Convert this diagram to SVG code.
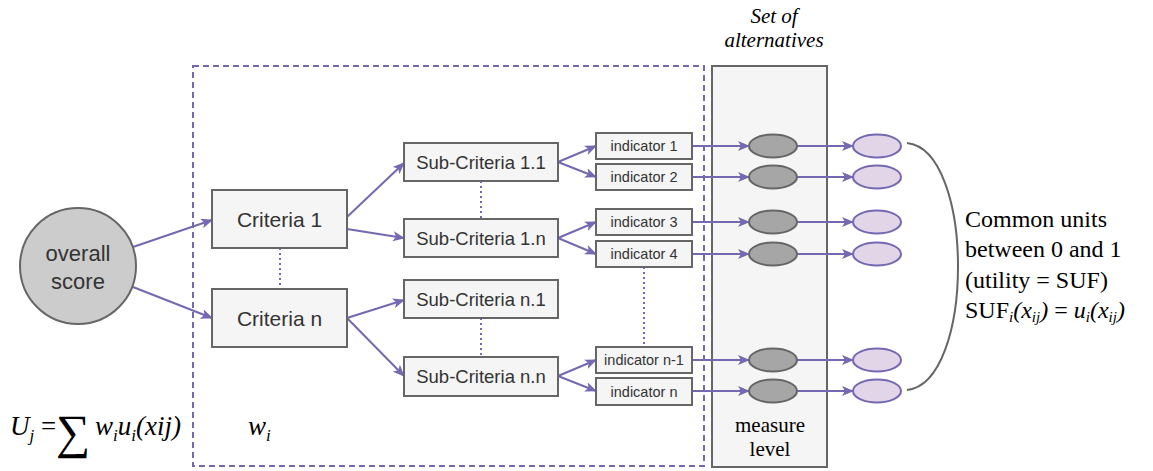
<svg xmlns="http://www.w3.org/2000/svg" width="1153" height="471" viewBox="0 0 1153 471">
<defs>
<style>
.box{fill:#f5f5f5;stroke:#666666;stroke-width:2}
.lbl{font-family:"Liberation Sans",Arial,sans-serif;fill:#333333;text-anchor:middle;dominant-baseline:central}
.c{stroke:#7468b2;stroke-width:2;fill:none;marker-end:url(#arr)}
.dot{stroke:#7468b2;stroke-width:2;fill:none;stroke-dasharray:2 3}
.tm{font-family:"Liberation Serif","Times New Roman",serif;fill:#000}
.ge{fill:#a6a6a6;stroke:#666666;stroke-width:2}
.pe{fill:#e1d5e7;stroke:#7468b2;stroke-width:2}
</style>
<marker id="arr" viewBox="0 0 12 10" refX="11" refY="5" markerWidth="12" markerHeight="10" orient="auto" markerUnits="userSpaceOnUse">
<path d="M0,0 L12,5 L0,10 L3,5 Z" fill="#7468b2"/>
</marker>
</defs>
<rect width="1153" height="471" fill="#ffffff"/>

<g id="alternatives-panel">
<rect x="712" y="66" width="115" height="401" class="box"/>
<text class="tm" x="774" y="23" font-size="21" font-style="italic" text-anchor="middle">Set of</text>
<text class="tm" x="774" y="47" font-size="21" font-style="italic" text-anchor="middle">alternatives</text>
<text class="tm" x="770" y="432" font-size="21" text-anchor="middle">measure</text>
<text class="tm" x="770" y="456" font-size="21" text-anchor="middle">level</text>
</g>

<g id="weights-frame">
<rect x="193" y="66" width="511" height="400" fill="none" stroke="#7468b2" stroke-width="2" stroke-dasharray="6 4"/>
</g>

<g id="connectors">
<line x1="133" y1="247" x2="212" y2="220" class="c"/>
<line x1="133" y1="287" x2="212" y2="318" class="c"/>
<line x1="347" y1="217" x2="404" y2="163" class="c"/>
<line x1="347" y1="229" x2="404" y2="238" class="c"/>
<line x1="347" y1="318" x2="404" y2="300" class="c"/>
<line x1="347" y1="318" x2="404" y2="376" class="c"/>
<line x1="558" y1="162" x2="596" y2="146" class="c"/>
<line x1="558" y1="162" x2="596" y2="177" class="c"/>
<line x1="558" y1="238" x2="596" y2="222" class="c"/>
<line x1="558" y1="238" x2="596" y2="254" class="c"/>
<line x1="558" y1="376" x2="596" y2="360" class="c"/>
<line x1="558" y1="376" x2="596" y2="391" class="c"/>
<line x1="692" y1="146" x2="749" y2="146" class="c"/>
<line x1="692" y1="177" x2="749" y2="177" class="c"/>
<line x1="692" y1="222" x2="749" y2="222" class="c"/>
<line x1="692" y1="254" x2="749" y2="254" class="c"/>
<line x1="692" y1="360" x2="749" y2="360" class="c"/>
<line x1="692" y1="391" x2="749" y2="391" class="c"/>
<line x1="797" y1="146" x2="853" y2="146" class="c"/>
<line x1="797" y1="177" x2="853" y2="177" class="c"/>
<line x1="797" y1="222" x2="853" y2="222" class="c"/>
<line x1="797" y1="254" x2="853" y2="254" class="c"/>
<line x1="797" y1="360" x2="853" y2="360" class="c"/>
<line x1="797" y1="391" x2="853" y2="391" class="c"/>
<line x1="280" y1="248" x2="280" y2="289" class="dot"/>
<line x1="481" y1="181" x2="481" y2="219" class="dot"/>
<line x1="481" y1="318" x2="481" y2="357" class="dot"/>
<line x1="644" y1="267" x2="644" y2="345" class="dot"/>
<path d="M907,143 C975,150 975,383 907,390" fill="none" stroke="#666666" stroke-width="2"/>
</g>

<g id="overall-score">
<circle cx="78" cy="266" r="58" fill="#cccccc" stroke="#666666" stroke-width="2"/>
<text class="lbl" x="78" y="253" font-size="22">overall</text>
<text class="lbl" x="78" y="281" font-size="22">score</text>
</g>

<g id="criteria-1"><rect x="212" y="190" width="135" height="58" class="box"/><text class="lbl" x="279.5" y="219" font-size="21">Criteria 1</text></g>
<g id="criteria-n"><rect x="212" y="289" width="135" height="58" class="box"/><text class="lbl" x="279.5" y="318" font-size="21">Criteria n</text></g>

<g id="sub-1-1"><rect x="404" y="143" width="154" height="38" class="box"/><text class="lbl" x="481" y="162" font-size="18.5">Sub-Criteria 1.1</text></g>
<g id="sub-1-n"><rect x="404" y="219" width="154" height="38" class="box"/><text class="lbl" x="481" y="238" font-size="18.5">Sub-Criteria 1.n</text></g>
<g id="sub-n-1"><rect x="404" y="280" width="154" height="38" class="box"/><text class="lbl" x="481" y="299" font-size="18.5">Sub-Criteria n.1</text></g>
<g id="sub-n-n"><rect x="404" y="357" width="154" height="39" class="box"/><text class="lbl" x="481" y="376.5" font-size="18.5">Sub-Criteria n.n</text></g>

<g id="indicator-1"><rect x="596" y="133" width="96" height="26" class="box"/><text class="lbl" x="644" y="146" font-size="14.5">indicator 1</text></g>
<g id="indicator-2"><rect x="596" y="164" width="96" height="26" class="box"/><text class="lbl" x="644" y="177" font-size="14.5">indicator 2</text></g>
<g id="indicator-3"><rect x="596" y="209" width="96" height="26" class="box"/><text class="lbl" x="644" y="222" font-size="14.5">indicator 3</text></g>
<g id="indicator-4"><rect x="596" y="241" width="96" height="26" class="box"/><text class="lbl" x="644" y="254" font-size="14.5">indicator 4</text></g>
<g id="indicator-n-1"><rect x="596" y="347" width="96" height="26" class="box"/><text class="lbl" x="644" y="360" font-size="14.5">indicator n-1</text></g>
<g id="indicator-n"><rect x="596" y="378" width="96" height="27" class="box"/><text class="lbl" x="644" y="391.5" font-size="14.5">indicator n</text></g>

<g id="measures">
<ellipse cx="773" cy="146" rx="24" ry="11.5" class="ge"/>
<ellipse cx="773" cy="177" rx="24" ry="11.5" class="ge"/>
<ellipse cx="773" cy="222" rx="24" ry="11.5" class="ge"/>
<ellipse cx="773" cy="254" rx="24" ry="11.5" class="ge"/>
<ellipse cx="773" cy="360" rx="24" ry="11.5" class="ge"/>
<ellipse cx="773" cy="391" rx="24" ry="11.5" class="ge"/>
</g>

<g id="utilities">
<ellipse cx="877" cy="146" rx="24" ry="11.5" class="pe"/>
<ellipse cx="877" cy="177" rx="24" ry="11.5" class="pe"/>
<ellipse cx="877" cy="222" rx="24" ry="11.5" class="pe"/>
<ellipse cx="877" cy="254" rx="24" ry="11.5" class="pe"/>
<ellipse cx="877" cy="360" rx="24" ry="11.5" class="pe"/>
<ellipse cx="877" cy="391" rx="24" ry="11.5" class="pe"/>
</g>

<g id="common-units">
<text class="tm" x="965" y="227" font-size="24">Common units</text>
<text class="tm" x="965" y="257" font-size="24">between 0 and 1</text>
<text class="tm" x="965" y="288" font-size="24">(utility = SUF)</text>
<text class="tm" x="965" y="318" font-size="24">SUF<tspan font-style="italic" font-size="15" dy="4">i</tspan><tspan font-style="italic" dy="-4">(x</tspan><tspan font-style="italic" font-size="15" dy="4">ij</tspan><tspan font-style="italic" dy="-4">)</tspan> = <tspan font-style="italic">u</tspan><tspan font-style="italic" font-size="15" dy="4">i</tspan><tspan font-style="italic" dy="-4">(x</tspan><tspan font-style="italic" font-size="15" dy="4">ij</tspan><tspan font-style="italic" dy="-4">)</tspan></text>
</g>

<g id="formula">
<text class="tm" x="10" y="435" font-size="27" font-style="italic">U<tspan font-size="17" dy="6">j</tspan><tspan font-style="normal" dy="-6"> = </tspan></text>
<text class="tm" x="56" y="448" font-size="48">∑</text>
<text class="tm" x="95" y="435" font-size="27" font-style="italic">w<tspan font-size="17" dy="6">i</tspan><tspan dy="-6">u</tspan><tspan font-size="17" dy="6">i</tspan><tspan dy="-6">(xij)</tspan></text>
<text class="tm" x="248" y="435" font-size="27" font-style="italic">w<tspan font-size="17" dy="6">i</tspan></text>
</g>
</svg>
